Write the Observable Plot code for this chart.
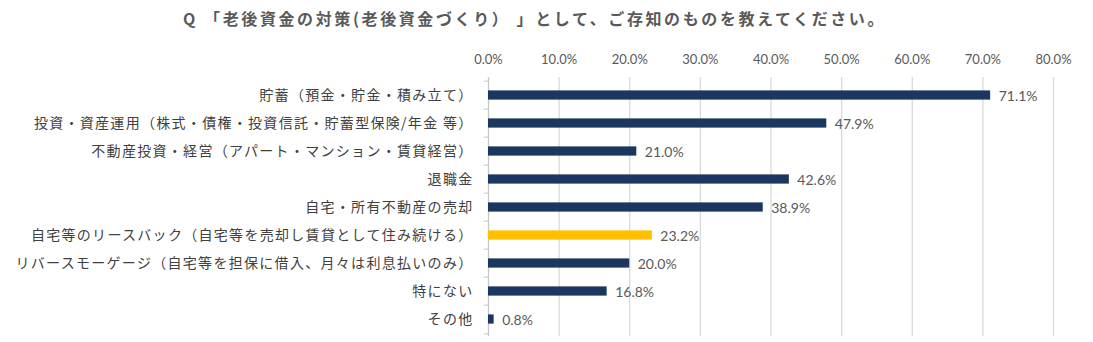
<!DOCTYPE html>
<html>
<head>
<meta charset="utf-8">
<script src="https://cdn.jsdelivr.net/npm/d3@7"></script>
<script src="https://cdn.jsdelivr.net/npm/@observablehq/plot@0.6"></script>
<style>
  html, body { margin: 0; padding: 0; background: #fff; }
  #title {
    width: 1093px; height: 40px; box-sizing: border-box;
    padding-top: 8px; padding-right: 24px;
    text-align: center; line-height: 20px;
    font-family: "Noto Sans CJK JP", sans-serif; font-weight: bold;
    font-size: 16px; letter-spacing: 2.6px; color: #595959;
  }
  g[aria-label="y-axis tick label"] text { letter-spacing: 1.3px; }
</style>
</head>
<body>
<div id="title">Q 「老後資金の対策(老後資金づくり） 」として、ご存知のものを教えてください。</div>
<div id="chart"></div>
<script>
const categories = [
  "貯蓄（預金・貯金・積み立て）",
  "投資・資産運用（株式・債権・投資信託・貯蓄型保険/年金 等）",
  "不動産投資・経営（アパート・マンション・賃貸経営）",
  "退職金",
  "自宅・所有不動産の売却",
  "自宅等のリースバック（自宅等を売却し賃貸として住み続ける）",
  "リバースモーゲージ（自宅等を担保に借入、月々は利息払いのみ）",
  "特にない",
  "その他"
];
const values = [71.1, 47.9, 21.0, 42.6, 38.9, 23.2, 20.0, 16.8, 0.8];
const highlighted = ["自宅等のリースバック（自宅等を売却し賃貸として住み続ける）"];
const xTicks = [0, 10, 20, 30, 40, 50, 60, 70, 80];

const data = categories.map((c, i) => ({cat: c, value: values[i], hl: highlighted.includes(c)}));

const step = 259 / categories.length;
const inset = (step - 10) / 2;

const chart = Plot.plot({
  width: 1093,
  height: 302,
  marginLeft: 488,
  marginRight: 40,
  marginTop: 37,
  marginBottom: 6,
  x: {domain: [0, 80], axis: null, label: null},
  y: {domain: categories, padding: 0, axis: null, label: null},
  marks: [
    Plot.gridX(xTicks.filter(d => d > 0), {stroke: "#d9d9d9", strokeOpacity: 1, strokeWidth: 1.3}),
    Plot.ruleX([0], {stroke: "#c8c8c8", strokeWidth: 1.3}),
    Plot.ruleY(categories, {y: d => d, x1: -0.6, x2: 0, dy: -step / 2, stroke: "#c8c8c8"}),
    Plot.ruleY(categories.slice(-1), {y: d => d, x1: -0.6, x2: 0, dy: step / 2, stroke: "#c8c8c8"}),
    Plot.axisX({
      anchor: "top", ticks: xTicks, tickSize: 0, tickPadding: 14, label: null,
      tickFormat: d => d.toFixed(1) + "%",
      fontSize: 13, fontFamily: "Lato, sans-serif", color: "#595959"
    }),
    Plot.axisY({
      tickSize: 0, tickPadding: 15, fontSize: 14, label: null,
      fontFamily: "Noto Sans CJK JP, sans-serif", color: "#404040"
    }),
    Plot.barX(data, {
      x: "value", y: "cat",
      fill: d => d.hl ? "#FFC000" : "#1B365F",
      insetTop: inset, insetBottom: inset
    }),
    Plot.text(data, {
      x: "value", y: "cat",
      text: d => d.value.toFixed(1) + "%",
      textAnchor: "start", dx: 8, dy: 1,
      fontSize: 14, fontFamily: "Lato, sans-serif", fill: "#595959"
    })
  ]
});
document.getElementById("chart").appendChild(chart);
</script>
</body>
</html>
